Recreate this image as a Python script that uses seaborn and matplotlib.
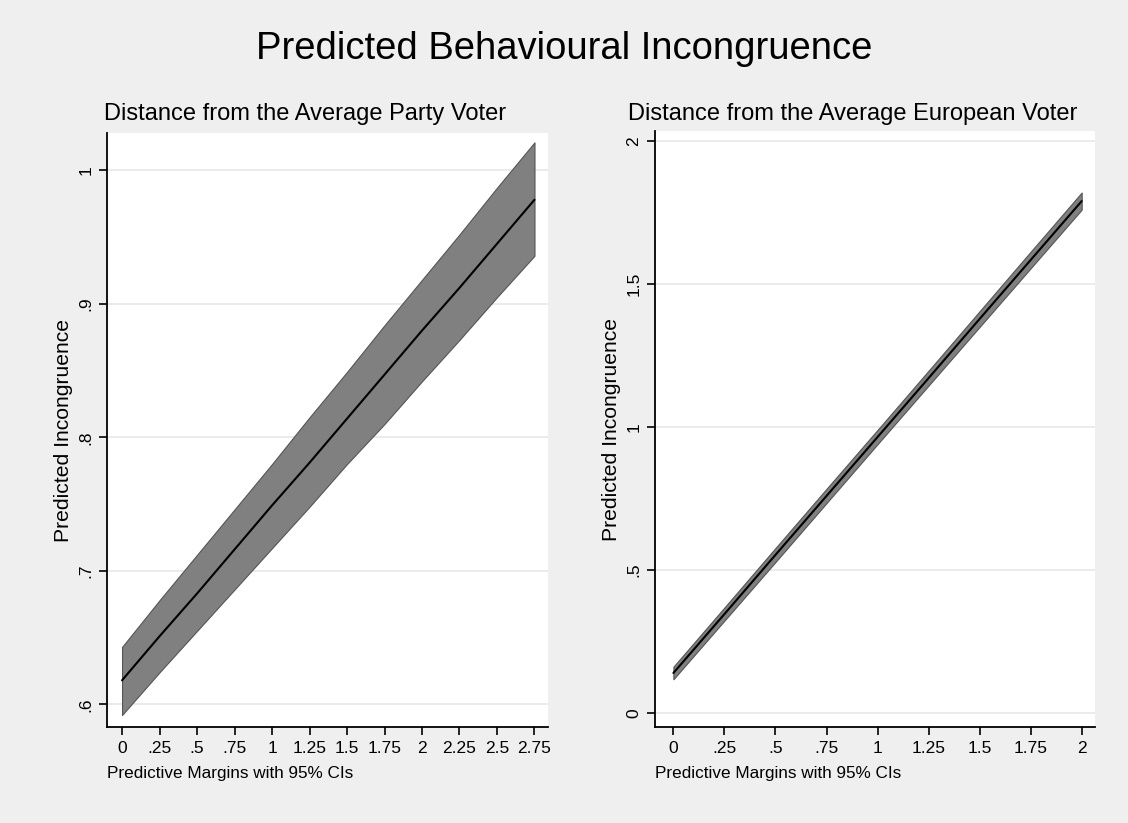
import numpy as np
import pandas as pd
import seaborn as sns
import matplotlib.pyplot as plt

# values (margins at each quarter step)
party_x = [0, .25, .5, .75, 1, 1.25, 1.5, 1.75, 2, 2.25, 2.5, 2.75]
party_est = [0.618, 0.651, 0.683, 0.716, 0.749, 0.781, 0.814, 0.847, 0.880, 0.912, 0.945, 0.978]
party_lo = [0.592, 0.624, 0.655, 0.686, 0.717, 0.748, 0.780, 0.810, 0.842, 0.873, 0.905, 0.936]
party_hi = [0.643, 0.678, 0.712, 0.746, 0.780, 0.815, 0.849, 0.884, 0.918, 0.952, 0.987, 1.021]

euro_x = [0, .25, .5, .75, 1, 1.25, 1.5, 1.75, 2]
euro_est = [0.140, 0.346, 0.553, 0.759, 0.965, 1.171, 1.378, 1.584, 1.790]
euro_lo = [0.118, 0.323, 0.528, 0.734, 0.940, 1.145, 1.350, 1.555, 1.760]
euro_hi = [0.162, 0.369, 0.577, 0.784, 0.990, 1.197, 1.405, 1.613, 1.820]

party_xticks = [0, .25, .5, .75, 1, 1.25, 1.5, 1.75, 2, 2.25, 2.5, 2.75]
party_xticklabels = ['0', '.25', '.5', '.75', '1', '1.25', '1.5', '1.75', '2', '2.25', '2.5', '2.75']
party_yticks = [.6, .7, .8, .9, 1]
party_yticklabels = ['.6', '.7', '.8', '.9', '1']

euro_xticks = [0, .25, .5, .75, 1, 1.25, 1.5, 1.75, 2]
euro_xticklabels = ['0', '.25', '.5', '.75', '1', '1.25', '1.5', '1.75', '2']
euro_yticks = [0, .5, 1, 1.5, 2]
euro_yticklabels = ['0', '.5', '1', '1.5', '2']

sns.set_theme(style="white")
plt.rcParams['font.family'] = ['Liberation Sans', 'DejaVu Sans']
plt.rcParams['text.color'] = 'black'
plt.rcParams['axes.labelcolor'] = 'black'
plt.rcParams['xtick.color'] = 'black'
plt.rcParams['ytick.color'] = 'black'

bg = '#efefef'
fig = plt.figure(figsize=(11.28, 8.23), dpi=100, facecolor=bg)
ax1 = fig.add_axes([0.0949, 0.1166, 0.3909, 0.7218])
ax2 = fig.add_axes([0.5807, 0.1166, 0.3900, 0.7242])


def draw_panel(ax, x, est, lo, hi, xticks, xtl, yticks, ytl, xlim, ylim):
    df = pd.DataFrame({'x': x, 'est': est, 'lo': lo, 'hi': hi})
    ax.set_facecolor('white')
    for y in yticks:
        ax.axhline(y, color='#e8e8e8', lw=1.2, zorder=0)
    ax.fill_between(df['x'], df['lo'], df['hi'], color='#808080',
                    edgecolor='#555555', lw=0.8, zorder=2)
    sns.lineplot(data=df, x='x', y='est', ax=ax, color='black', lw=1.5, zorder=3)
    ax.set_xlim(*xlim)
    ax.set_ylim(*ylim)
    ax.set_xticks(xticks)
    ax.set_xticklabels(xtl, fontsize=12.5)
    ax.set_yticks(yticks)
    ax.set_yticklabels(ytl, fontsize=12.5, rotation=90, va='center')
    ax.tick_params(axis='both', direction='out', length=6, width=1.2,
                   color='black', bottom=True, left=True, pad=4)
    for s in ['top', 'right']:
        ax.spines[s].set_visible(False)
    for s in ['left', 'bottom']:
        ax.spines[s].set_color('black')
        ax.spines[s].set_linewidth(1.3)
    ax.set_xlabel('Predictive Margins with 95% CIs', fontsize=12.3, loc='left',
                  labelpad=7)
    ax.set_ylabel('Predicted Incongruence', fontsize=15.2, labelpad=4)


draw_panel(ax1, party_x, party_est, party_lo, party_hi, party_xticks,
           party_xticklabels, party_yticks, party_yticklabels,
           (-0.1, 2.84), (0.583, 1.028))
draw_panel(ax2, euro_x, euro_est, euro_lo, euro_hi, euro_xticks,
           euro_xticklabels, euro_yticks, euro_yticklabels,
           (-0.09, 2.065), (-0.049, 2.035))

fig.text(0.5, 0.941, 'Predicted Behavioural Incongruence', ha='center',
         va='center', fontsize=27.5)
fig.text(0.2704, 0.862, 'Distance from the Average Party Voter', ha='center',
         va='center', fontsize=17)
fig.text(0.7562, 0.862, 'Distance from the Average European Voter', ha='center',
         va='center', fontsize=17)

fig.savefig('out.png', dpi=100, facecolor=bg)
